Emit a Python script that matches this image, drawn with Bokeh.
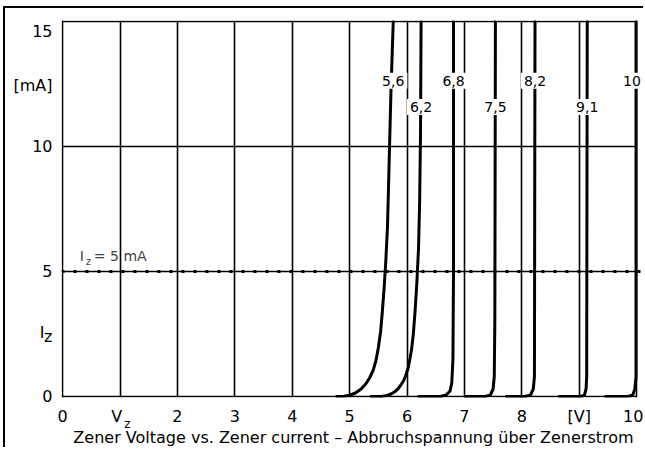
from bokeh.plotting import figure
from bokeh.layouts import column
from bokeh.models import FixedTicker, Span, Label, Range1d, LinearAxis
from bokeh.embed import file_html
from bokeh.resources import INLINE

FONT = "DejaVu Sans"

# axis tick labels (positions where each text sits)
v_tick_pos = [0, 0.94, 2, 3, 4, 5, 6, 7, 8, 9, 9.94]
v_tick_text = ["0", "V", "2", "3", "4", "5", "6", "7", "8", "[V]", "10"]
v_sub_pos = [1.13]
v_sub_text = ["z"]
i_tick_pos = [0, 2.55, 2.4, 5, 10, 12.46, 14.6]
i_tick_text = ["0", "I\u2002", "z", "5", "10", "[mA]", "15"]
v_grid = [0, 1, 2, 3, 4, 5, 6, 7, 8, 9, 10]
i_grid = [0, 5, 10, 15]
i_marker = 5  # Iz = 5 mA

# zener curves (voltage V, current mA)
zener_names = ["5,6", "6,2", "6,8", "7,5", "8,2", "9,1", "10"]
v_5v6 = [4.77, 4.90, 5.00, 5.10, 5.20, 5.28, 5.35, 5.41, 5.46, 5.50, 5.54, 5.57, 5.60, 5.63, 5.66, 5.69, 5.72, 5.76]
i_5v6 = [0, 0.01, 0.05, 0.14, 0.30, 0.50, 0.75, 1.05, 1.45, 1.95, 2.60, 3.40, 4.30, 5.40, 6.80, 9.5, 12.2, 15]
v_6v2 = [5.37, 5.55, 5.65, 5.72, 5.78, 5.84, 5.89, 5.94, 5.98, 6.02, 6.05, 6.08, 6.11, 6.14, 6.17, 6.20, 6.22, 6.235, 6.245]
i_6v2 = [0, 0, 0.04, 0.10, 0.18, 0.30, 0.45, 0.63, 0.85, 1.15, 1.50, 1.90, 2.50, 3.40, 4.50, 5.90, 7.8, 10.5, 15]
v_6v8 = [6.20, 6.58, 6.68, 6.75, 6.78, 6.80, 6.81, 6.81]
i_6v8 = [0, 0, 0.06, 0.22, 0.55, 1.5, 5, 15]
v_7v5 = [7.02, 7.36, 7.45, 7.50, 7.52, 7.53, 7.54]
i_7v5 = [0, 0, 0.05, 0.30, 0.80, 3, 15]
v_8v2 = [7.73, 8.05, 8.15, 8.20, 8.22, 8.23]
i_8v2 = [0, 0, 0.05, 0.30, 0.80, 15]
v_9v1 = [8.65, 9.02, 9.09, 9.12, 9.13, 9.14]
i_9v1 = [0, 0, 0.05, 0.30, 0.80, 15]
v_10v = [9.46, 9.84, 9.93, 9.97, 9.99, 9.99]
i_10v = [0, 0, 0.05, 0.30, 0.80, 15]

curves_v = [v_5v6, v_6v2, v_6v8, v_7v5, v_8v2, v_9v1, v_10v]
curves_i = [i_5v6, i_6v2, i_6v8, i_7v5, i_8v2, i_9v1, i_10v]
label_rows = [12.63, 11.58]
label_x_max = 9.92  # keep the rightmost label inside the picture

title = "Zener Voltage vs. Zener current \u2013 Abbruchspannung \u00fcber Zenerstrom"

p = figure(frame_width=582, frame_height=375,
           x_range=Range1d(-0.02, 10.155), y_range=Range1d(-0.04, 15.04),
           output_backend="svg", toolbar_location=None,
           min_border_left=56, min_border_right=0, min_border_top=12, min_border_bottom=20)
p.background_fill_color = "white"
p.border_fill_color = "white"
p.outline_line_color = None
p.styles = {"border-left": "2px solid black", "border-top": "2px solid black"}
p.margin = (6, 0, 0, 3)

sub_axis = LinearAxis(ticker=FixedTicker(ticks=v_sub_pos))
p.add_layout(sub_axis, "below")

for ax in (p.xaxis[0], p.yaxis[0], sub_axis):
    ax.axis_line_color = None
    ax.major_tick_line_color = None
    ax.minor_tick_line_color = None
    ax.major_tick_out = 0
    ax.major_tick_in = 0
    ax.major_label_text_font = FONT
    ax.major_label_text_font_size = "16px"
    ax.major_label_text_color = "black"

p.xaxis[0].ticker = FixedTicker(ticks=v_tick_pos)
p.xaxis[0].major_label_overrides = {t: l for t, l in zip(v_tick_pos, v_tick_text)}
p.xaxis[0].major_label_standoff = 9

sub_axis.major_label_overrides = {t: l for t, l in zip(v_sub_pos, v_sub_text)}
sub_axis.major_label_text_font_size = "12px"
sub_axis.major_label_standoff = -12
sub_axis.axis_label = title
sub_axis.axis_label_text_font = FONT
sub_axis.axis_label_text_font_size = "16px"
sub_axis.axis_label_text_font_style = "normal"
sub_axis.axis_label_text_color = "black"
sub_axis.axis_label_standoff = -6

p.yaxis.ticker = FixedTicker(ticks=i_tick_pos)
p.yaxis.major_label_overrides = {t: l for t, l in zip(i_tick_pos, i_tick_text)}
p.yaxis.major_label_standoff = 9

p.xgrid.ticker = FixedTicker(ticks=v_grid)
p.ygrid.ticker = FixedTicker(ticks=i_grid)
for g in (p.xgrid[0], p.ygrid[0]):
    g.grid_line_color = "black"
    g.grid_line_width = 1.6
    g.grid_line_alpha = 1.0
if "cross_bounds" in p.ygrid[0].properties():
    p.ygrid[0].cross_bounds = (v_grid[0], v_grid[-1])

p.add_layout(Span(location=i_marker, dimension="width", line_color="black",
                  line_width=3, line_dash="3 9"))

for vs, cs in zip(curves_v, curves_i):
    p.line(vs, cs, line_color="black", line_width=3, line_join="round", line_cap="round")

for k, (name, vs) in enumerate(zip(zener_names, curves_v)):
    p.add_layout(Label(x=min(vs[-1], label_x_max), y=label_rows[k % 2], text=name,
                       text_align="center", text_baseline="middle",
                       text_font=FONT, text_font_size="14px", text_color="black",
                       background_fill_color="white", padding=3))

# Iz = 5 mA label
p.add_layout(Label(x=0.3, y=i_marker, y_offset=8, text="I",
                   text_font=FONT, text_font_size="14px", text_baseline="bottom"))
p.add_layout(Label(x=0.3, y=i_marker, x_offset=6, y_offset=5, text="z",
                   text_font=FONT, text_font_size="10px", text_baseline="bottom"))
p.add_layout(Label(x=0.3, y=i_marker, x_offset=14, y_offset=8, text="= 5 mA",
                   text_font=FONT, text_font_size="14px", text_baseline="bottom"))

root = column(p)
open("out.html", "w").write(file_html(root, INLINE))
